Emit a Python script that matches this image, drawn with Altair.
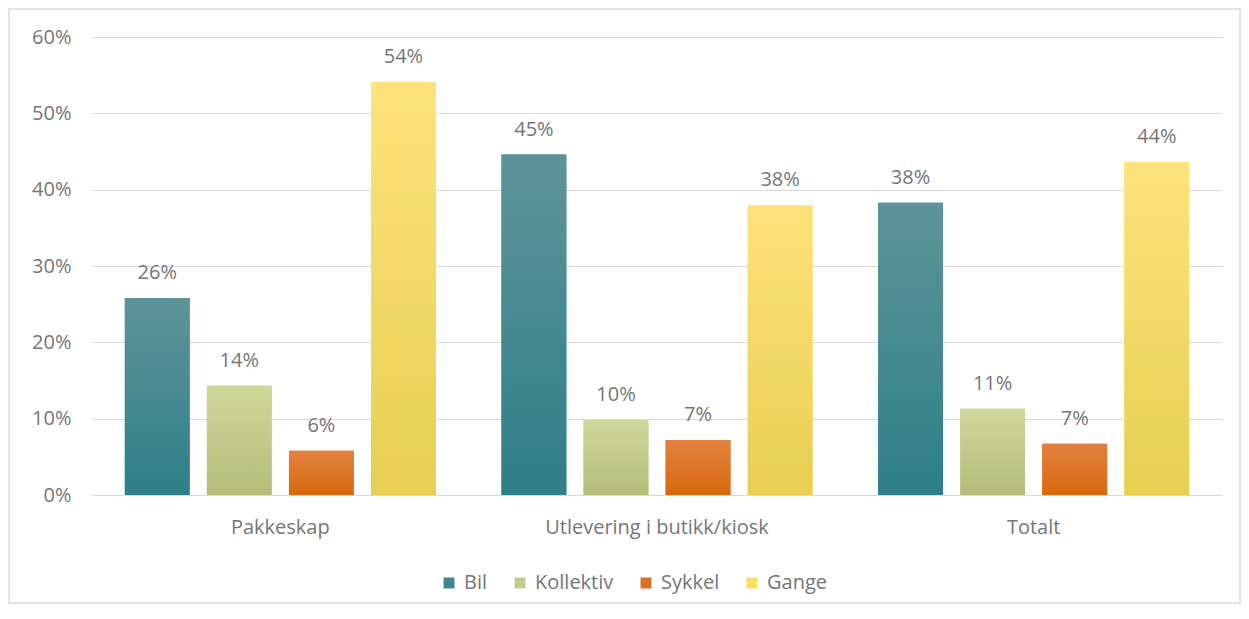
import altair as alt
import pandas as pd

categories = ["Pakkeskap", "Utlevering i butikk/kiosk", "Totalt"]
series = ["Bil", "Kollektiv", "Sykkel", "Gange"]
bil = [0.258, 0.446, 0.383]
kollektiv = [0.143, 0.098, 0.113]
sykkel = [0.058, 0.072, 0.067]
gange = [0.541, 0.380, 0.436]

solid = ["#3f868e", "#c4cc8b", "#dc7022", "#f7e062"]
grad_top = ["#5e9499", "#cfd79b", "#e2823f", "#fee37c"]
grad_bot = ["#2e7f88", "#b4be79", "#d8680e", "#e6cf52"]

rows = []
for i, c in enumerate(categories):
    for s, vals in zip(series, [bil, kollektiv, sykkel, gange]):
        rows.append({"kategori": c, "serie": s, "verdi": vals[i]})
df = pd.DataFrame(rows)

FONT = "Open Sans"
GRAY = "#767676"
FS = 20

x = alt.X("kategori:N", sort=categories,
          scale=alt.Scale(paddingInner=0, paddingOuter=0),
          axis=alt.Axis(title=None, labelAngle=0, labelFontSize=FS, labelColor=GRAY,
                        labelFont=FONT, ticks=False, domainColor="#d9d9d9",
                        labelPadding=22, labelLimit=0, grid=False))
xo = alt.XOffset("serie:N", sort=series,
                 scale=alt.Scale(domain=series, paddingInner=0.21, paddingOuter=0.40))
y = alt.Y("verdi:Q", scale=alt.Scale(domain=[0, 0.6], nice=False),
          axis=alt.Axis(title=None, format=".0%", values=[0, 0.1, 0.2, 0.3, 0.4, 0.5, 0.6],
                        labelFontSize=FS, labelColor=GRAY, labelFont=FONT, ticks=False,
                        domain=False, gridColor="#d9d9d9", labelPadding=21))

base = alt.Chart(df)

bars = base.mark_bar().encode(
    x=x, xOffset=xo, y=y,
    color=alt.Color("serie:N", sort=series,
                    scale=alt.Scale(domain=series, range=solid),
                    legend=alt.Legend(title=None, orient="none", direction="horizontal",
                                      legendX=347, legendY=536, symbolType="square",
                                      symbolSize=120, symbolStrokeWidth=0,
                                      labelFontSize=FS, labelColor=GRAY, labelFont=FONT,
                                      columnPadding=22, labelOffset=5)),
)

layers = [bars]
for s, t, b in zip(series, grad_top, grad_bot):
    g = alt.LinearGradient(gradient="linear",
                           stops=[alt.GradientStop(color=t, offset=0),
                                  alt.GradientStop(color=b, offset=1)],
                           x1=0, x2=0, y1=0, y2=1)
    layers.append(
        base.transform_filter(alt.datum.serie == s)
        .mark_bar(color=g)
        .encode(x=x, xOffset=xo, y=y)
    )

labels = base.mark_text(baseline="bottom", dy=-15, fontSize=FS, color=GRAY, font=FONT).encode(
    x=x, xOffset=xo, y=y, text=alt.Text("verdi:Q", format=".0%")
)
layers.append(labels)

border = alt.Chart(pd.DataFrame({"a": [1]})).mark_rect(
    fill=None, stroke="#e3e3e3", strokeWidth=2
).encode(x=alt.value(-83), x2=alt.value(1148), y=alt.value(-28), y2=alt.value(566))
layers.append(border)

chart = alt.layer(*layers).properties(
    width=1130, height=458,
    autosize=alt.AutoSizeParams(type="none"),
    padding={"left": 84, "top": 29, "right": 19, "bottom": 110},
    background="white",
).configure_view(stroke=None, strokeWidth=0)

chart.save("out.html", embed_options={"renderer": "svg", "actions": False})
